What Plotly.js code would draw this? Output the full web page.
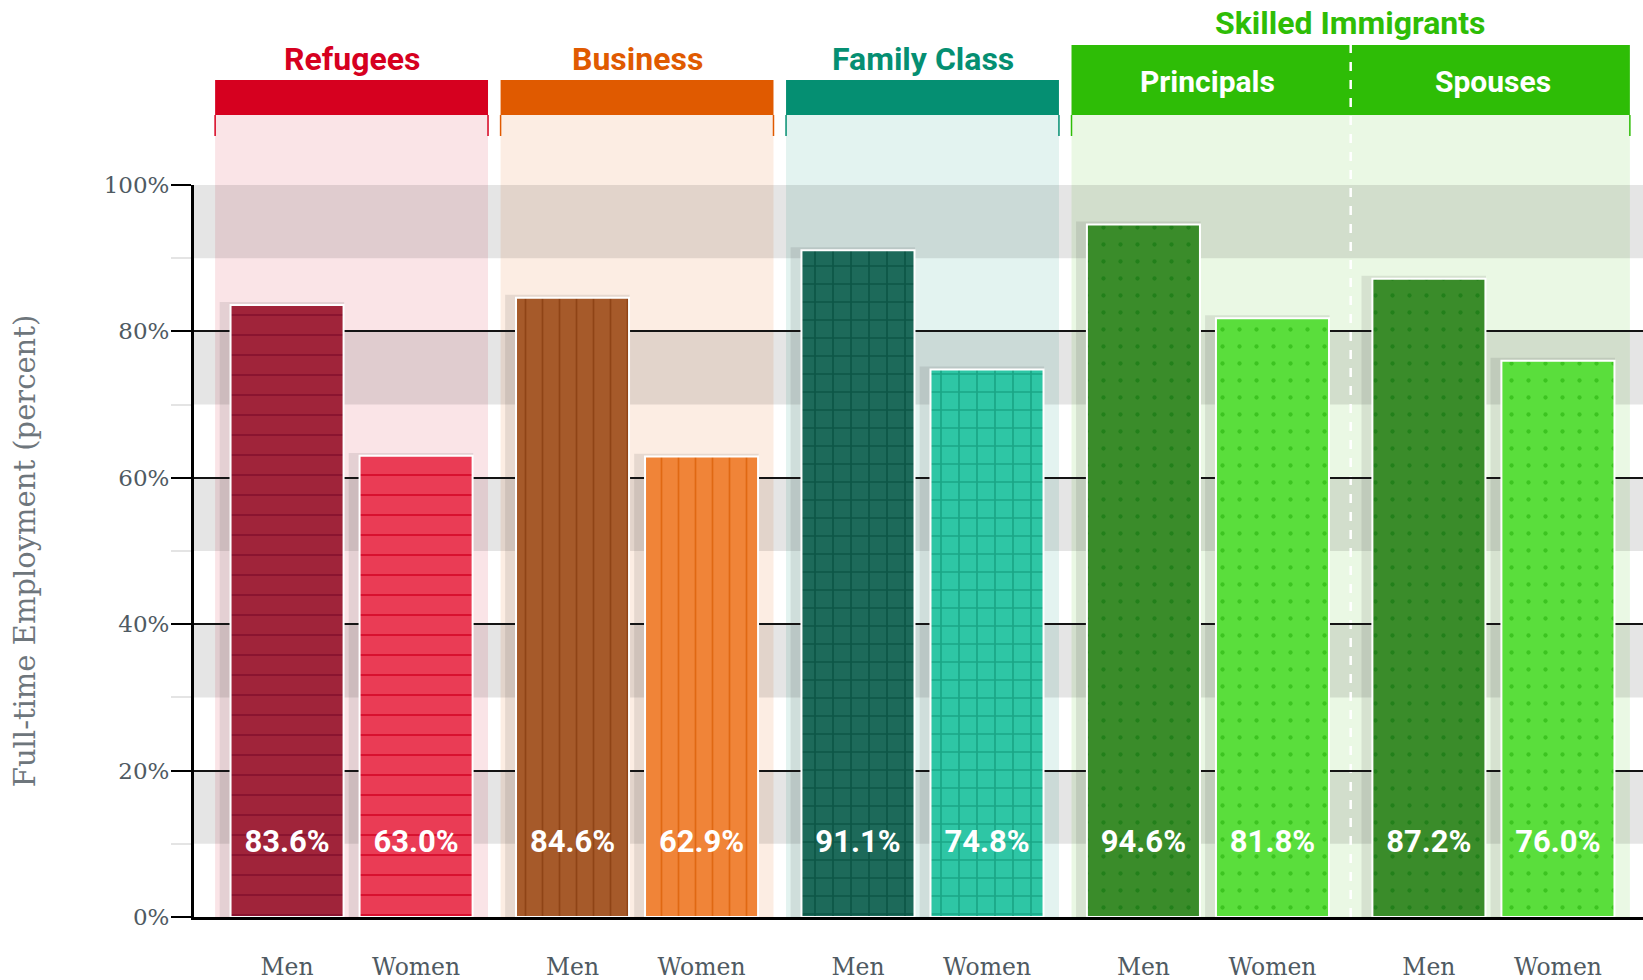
<!DOCTYPE html>
<html>
<head>
<meta charset="utf-8">
<script src="https://cdn.plot.ly/plotly-3.0.1.min.js"></script>
<style>
  html, body { margin: 0; padding: 0; background: #ffffff; }
  #chart { width: 1643px; height: 980px; }
</style>
</head>
<body>
<div id="chart"></div>
<script>
// values (percent in full-time employment)
const GROUPS = ["Refugees", "Business", "Family Class", "Principals", "Spouses"];
const SEXES = ["Men", "Women"];
const MEN = [83.6, 84.6, 91.1, 94.6, 87.2];
const WOMEN = [63.0, 62.9, 74.8, 81.8, 76.0];
const Y_TICKS = [0, 20, 40, 60, 80, 100];

// header sections spanning groups
const SECTIONS = ["Refugees", "Business", "Family Class", "Skilled Immigrants"];
const SECTION_FIRST = [0, 1, 2, 3];
const SECTION_LAST = [0, 1, 2, 4];
const SUB_HEADERS = ["Principals", "Spouses"];
const SUB_HEADER_GROUPS = [3, 4];

const SECTION_COLORS = ["#d6001f", "#e05a00", "#058f72", "#2ebd06"];
const SECTION_BG = ["#fae4e7", "#fcede3", "#e3f3f0", "#eaf8e4"];

// [men, women] fill and pattern colours per group
const BAR_FILL = [
  ["#a0243a", "#ea3c55"],
  ["#a65a2a", "#f08438"],
  ["#1d6a5a", "#2ec6a5"],
  ["#3a8c2a", "#5ade3c"],
  ["#3a8c2a", "#5ade3c"],
];
const BAR_INK = [
  ["#8a1430", "#d8112f"],
  ["#8f4416", "#e06812"],
  ["#0c5646", "#1aa686"],
  ["#22801a", "#3cc420"],
  ["#22801a", "#3cc420"],
];
const BAR_PATTERN = [
  { shape: "-", size: 20, solidity: 0.1 },
  { shape: "|", size: 17, solidity: 0.1 },
  { shape: "+", size: 18, solidity: 0.18 },
  { shape: ".", size: 17, solidity: 0.05 },
  { shape: ".", size: 17, solidity: 0.05 },
];

const WOMEN_OFFSET = 0.452;
const BAR_WIDTH = 0.396;
const HEAD_LEFT = -0.252;
const HEAD_RIGHT = 0.704;
const LABEL_Y = 10;

const TITLE_FONT = "Roboto, Liberation Sans, sans-serif";
const SERIF_FONT = "DejaVu Serif, Georgia, serif";

function paperY(px) {
  // pixel row in the page -> paper coordinate (plot spans rows 185..917)
  return (917 - px) / 732;
}

function barX(groupIndex, sexIndex) {
  return groupIndex + sexIndex * WOMEN_OFFSET;
}

function buildBarTraces() {
  const traces = [];
  GROUPS.forEach((group, g) => {
    const values = [MEN[g], WOMEN[g]];
    SEXES.forEach((sex, s) => {
      traces.push({
        type: "bar",
        x: [barX(g, s)],
        y: [values[s]],
        width: BAR_WIDTH,
        name: `${group} ${sex}`,
        hoverinfo: "skip",
        marker: {
          color: BAR_FILL[g][s],
          line: { color: "#ffffff", width: 2 },
          pattern: {
            fillmode: "overlay",
            shape: BAR_PATTERN[g].shape,
            size: BAR_PATTERN[g].size,
            solidity: BAR_PATTERN[g].solidity,
            fgcolor: BAR_INK[g][s],
            fgopacity: 1,
          },
        },
      });
    });
  });
  return traces;
}

function buildShadowTrace() {
  const xs = [];
  const ys = [];
  GROUPS.forEach((_, g) => {
    xs.push(barX(g, 0) - 0.018, barX(g, 1) - 0.018);
    ys.push(MEN[g] + 0.4, WOMEN[g] + 0.4);
  });
  return {
    type: "bar",
    x: xs,
    y: ys,
    width: BAR_WIDTH + 0.04,
    hoverinfo: "skip",
    marker: { color: "rgba(40,40,40,0.1)", line: { width: 0 } },
  };
}

function buildLabelTrace() {
  const xs = [];
  const texts = [];
  GROUPS.forEach((_, g) => {
    xs.push(barX(g, 0), barX(g, 1));
    texts.push(`${MEN[g].toFixed(1)}%`, `${WOMEN[g].toFixed(1)}%`);
  });
  return {
    type: "scatter",
    mode: "text",
    x: xs,
    y: xs.map(() => LABEL_Y),
    text: texts,
    textfont: { family: TITLE_FONT, size: 31, color: "#ffffff", weight: 700 },
    hoverinfo: "skip",
    cliponaxis: false,
  };
}

function buildShapes() {
  const shapes = [];
  // light column behind each section
  SECTIONS.forEach((_, i) => {
    shapes.push({
      type: "rect", layer: "below", xref: "x", yref: "paper",
      x0: SECTION_FIRST[i] + HEAD_LEFT, x1: SECTION_LAST[i] + HEAD_RIGHT,
      y0: 0, y1: paperY(115),
      fillcolor: SECTION_BG[i], line: { width: 0 },
    });
  });
  // alternating grey bands
  for (let start = 10; start < 100; start += 20) {
    shapes.push({
      type: "rect", layer: "below", xref: "paper", yref: "y",
      x0: 0, x1: 1, y0: start, y1: start + 10,
      fillcolor: "rgba(0,0,0,0.1)", line: { width: 0 },
    });
  }
  // header bars with their side ticks
  SECTIONS.forEach((_, i) => {
    const x0 = SECTION_FIRST[i] + HEAD_LEFT;
    const x1 = SECTION_LAST[i] + HEAD_RIGHT;
    const top = SECTION_FIRST[i] === SECTION_LAST[i] ? paperY(80) : paperY(45);
    shapes.push({
      type: "rect", layer: "below", xref: "x", yref: "paper",
      x0, x1, y0: paperY(115), y1: top,
      fillcolor: SECTION_COLORS[i], line: { width: 0 },
    });
    [x0, x1].forEach((x) => {
      shapes.push({
        type: "line", layer: "below", xref: "x", yref: "paper",
        x0: x, x1: x, y0: paperY(136), y1: paperY(115),
        line: { color: SECTION_COLORS[i], width: 1.5 },
      });
    });
  });
  // dashed divider between principals and spouses
  const divider = (SUB_HEADER_GROUPS[0] + HEAD_RIGHT + SUB_HEADER_GROUPS[1] + HEAD_LEFT) / 2;
  shapes.push({
    type: "line", layer: "below", xref: "x", yref: "paper",
    x0: divider, x1: divider, y0: 0, y1: paperY(45),
    line: { color: "#ffffff", width: 2.5, dash: "dash" },
  });
  return shapes;
}

function buildAnnotations() {
  const annotations = [];
  SECTIONS.forEach((label, i) => {
    const single = SECTION_FIRST[i] === SECTION_LAST[i];
    annotations.push({
      xref: "x", yref: "paper",
      x: (SECTION_FIRST[i] + HEAD_LEFT + SECTION_LAST[i] + HEAD_RIGHT) / 2,
      y: single ? paperY(59) : paperY(23),
      xanchor: "center", yanchor: "middle",
      text: label, showarrow: false,
      font: { family: TITLE_FONT, size: 32, color: SECTION_COLORS[i], weight: 700 },
    });
  });
  SUB_HEADERS.forEach((label, i) => {
    const g = SUB_HEADER_GROUPS[i];
    annotations.push({
      xref: "x", yref: "paper",
      x: g + (HEAD_LEFT + HEAD_RIGHT) / 2,
      y: paperY(82),
      xanchor: "center", yanchor: "middle",
      text: label, showarrow: false,
      font: { family: TITLE_FONT, size: 30, color: "#ffffff", weight: 700 },
    });
  });
  return annotations;
}

function main() {
  const tickVals = [];
  const tickText = [];
  GROUPS.forEach((_, g) => {
    SEXES.forEach((sex, s) => {
      tickVals.push(barX(g, s));
      tickText.push(sex);
    });
  });

  const traces = [buildShadowTrace(), ...buildBarTraces(), buildLabelTrace()];

  const layout = {
    width: 1643,
    height: 980,
    margin: { l: 194, r: 0, t: 185, b: 63 },
    paper_bgcolor: "#ffffff",
    plot_bgcolor: "rgba(0,0,0,0)",
    showlegend: false,
    barmode: "overlay",
    xaxis: {
      range: [-0.326, 4.75],
      tickmode: "array",
      tickvals: tickVals,
      ticktext: tickText,
      ticks: "",
      showgrid: false,
      zeroline: false,
      showline: true,
      linecolor: "#000000",
      linewidth: 3,
      ticklabelstandoff: 27,
      tickfont: { family: SERIF_FONT, size: 23.5, color: "#4f5a62" },
      fixedrange: true,
    },
    yaxis: {
      range: [0, 100],
      tickmode: "array",
      tickvals: Y_TICKS,
      ticktext: Y_TICKS.map((v) => `${v}%`),
      ticks: "outside",
      ticklen: 20,
      tickwidth: 2,
      tickcolor: "#000000",
      ticklabelstandoff: -3,
      showgrid: true,
      gridcolor: "#141414",
      gridwidth: 2,
      zeroline: false,
      showline: true,
      linecolor: "#000000",
      linewidth: 3,
      minor: { tickvals: [10, 30, 50, 70, 90], ticks: "outside", ticklen: 20, tickwidth: 2, tickcolor: "#e4e4e4", showgrid: false },
      tickfont: { family: SERIF_FONT, size: 23, color: "#4f5a62" },
      title: {
        text: "Full-time Employment (percent)",
        font: { family: SERIF_FONT, size: 29, color: "#6e767c" },
        standoff: 60,
      },
      automargin: false,
      fixedrange: true,
    },
    shapes: buildShapes(),
    annotations: buildAnnotations(),
  };

  Plotly.newPlot("chart", traces, layout, { displayModeBar: false, staticPlot: true });
}

main();
</script>
</body>
</html>
